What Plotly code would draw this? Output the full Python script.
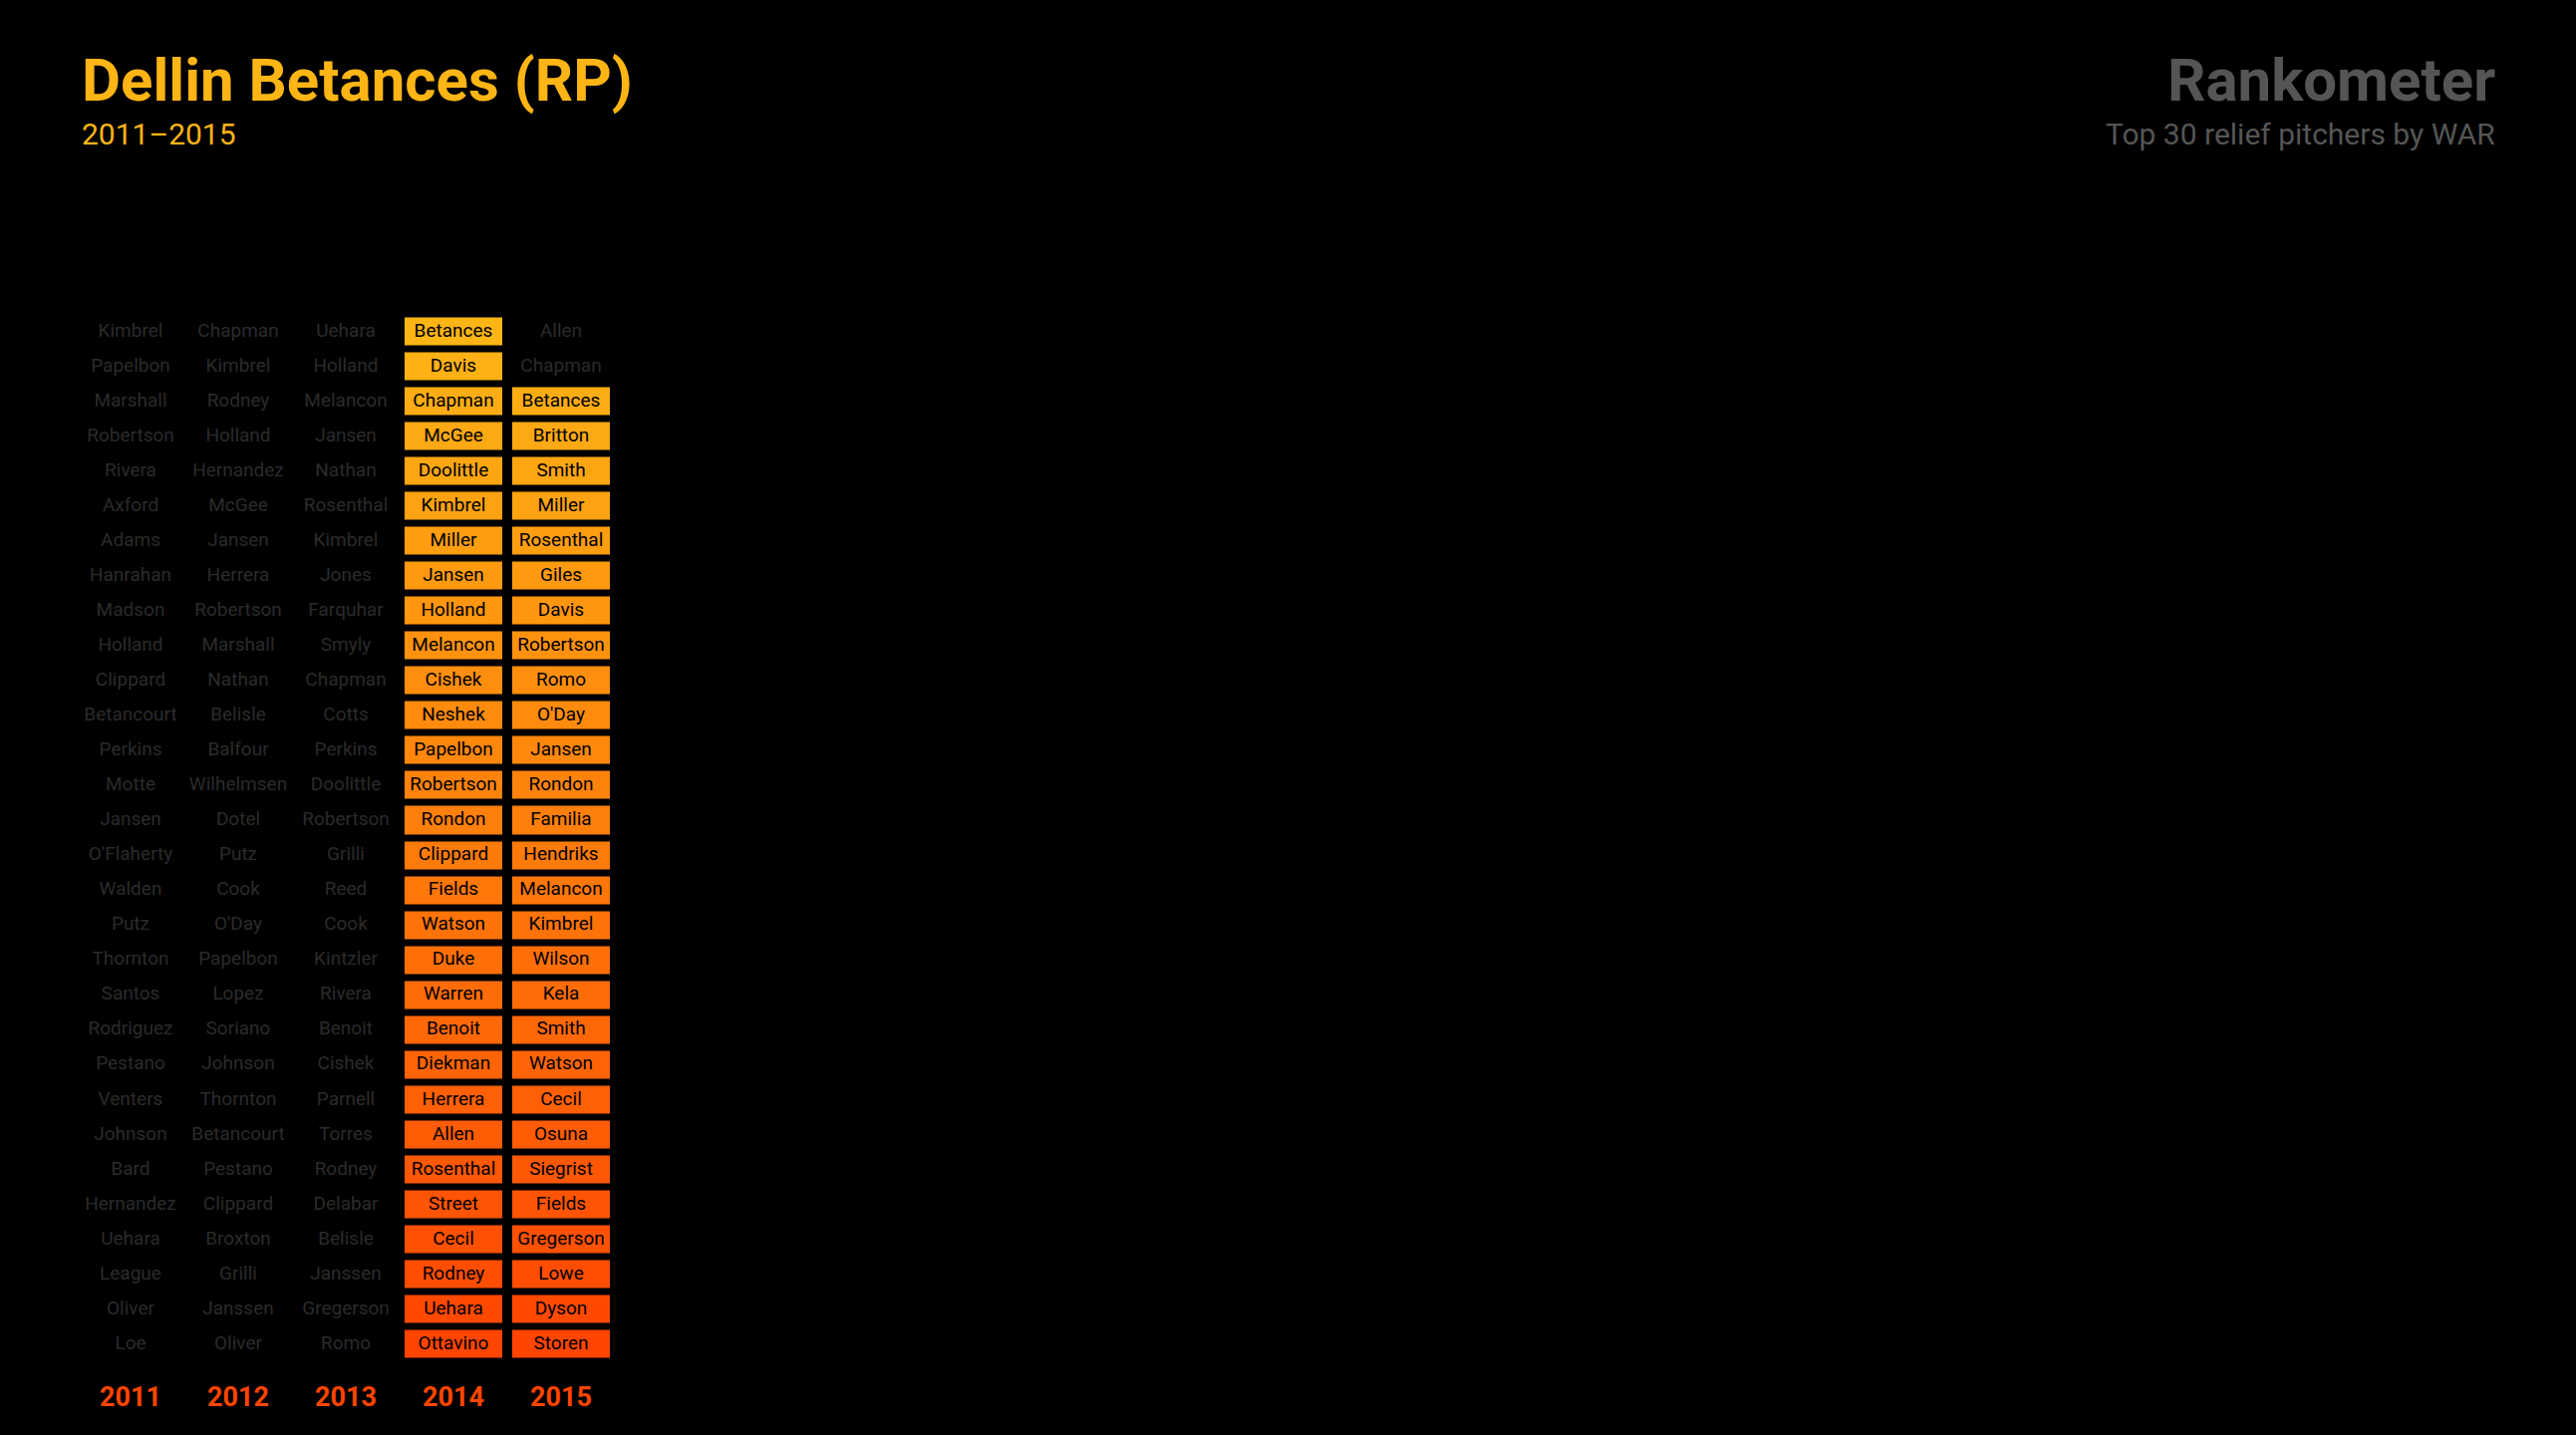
import plotly.graph_objects as go

# --- Data -------------------------------------------------------------------
YEARS = ["2011", "2012", "2013", "2014", "2015"]
RANKS = list(range(1, 31))

NAMES_2011 = ["Kimbrel", "Papelbon", "Marshall", "Robertson", "Rivera", "Axford", "Adams",
              "Hanrahan", "Madson", "Holland", "Clippard", "Betancourt", "Perkins", "Motte",
              "Jansen", "O'Flaherty", "Walden", "Putz", "Thornton", "Santos", "Rodriguez",
              "Pestano", "Venters", "Johnson", "Bard", "Hernandez", "Uehara", "League",
              "Oliver", "Loe"]
NAMES_2012 = ["Chapman", "Kimbrel", "Rodney", "Holland", "Hernandez", "McGee", "Jansen",
              "Herrera", "Robertson", "Marshall", "Nathan", "Belisle", "Balfour", "Wilhelmsen",
              "Dotel", "Putz", "Cook", "O'Day", "Papelbon", "Lopez", "Soriano", "Johnson",
              "Thornton", "Betancourt", "Pestano", "Clippard", "Broxton", "Grilli", "Janssen",
              "Oliver"]
NAMES_2013 = ["Uehara", "Holland", "Melancon", "Jansen", "Nathan", "Rosenthal", "Kimbrel",
              "Jones", "Farquhar", "Smyly", "Chapman", "Cotts", "Perkins", "Doolittle",
              "Robertson", "Grilli", "Reed", "Cook", "Kintzler", "Rivera", "Benoit", "Cishek",
              "Parnell", "Torres", "Rodney", "Delabar", "Belisle", "Janssen", "Gregerson",
              "Romo"]
NAMES_2014 = ["Betances", "Davis", "Chapman", "McGee", "Doolittle", "Kimbrel", "Miller",
              "Jansen", "Holland", "Melancon", "Cishek", "Neshek", "Papelbon", "Robertson",
              "Rondon", "Clippard", "Fields", "Watson", "Duke", "Warren", "Benoit", "Diekman",
              "Herrera", "Allen", "Rosenthal", "Street", "Cecil", "Rodney", "Uehara",
              "Ottavino"]
NAMES_2015 = ["Allen", "Chapman", "Betances", "Britton", "Smith", "Miller", "Rosenthal",
              "Giles", "Davis", "Robertson", "Romo", "O'Day", "Jansen", "Rondon", "Familia",
              "Hendriks", "Melancon", "Kimbrel", "Wilson", "Kela", "Smith", "Watson", "Cecil",
              "Osuna", "Siegrist", "Fields", "Gregerson", "Lowe", "Dyson", "Storen"]

# Betances' rank in each season (None = not in the top 30)
BETANCES_RANK = [None, None, None, 1, 3]

PLAYER = "Dellin Betances (RP)"
SPAN = "2011\u20132015"
BRAND = "Rankometer"
BRAND_SUB = "Top 30 relief pitchers by WAR"

# --- Styling ----------------------------------------------------------------
W, H = 2585, 1440
BG = "#000000"
AMBER = "#fdb515"
RED = "#ff4500"
MUTED = "#2b2b2b"
BRAND_GREY = "#555555"
FONT = "Roboto"

# --- Build cells ------------------------------------------------------------
all_names = [NAMES_2011, NAMES_2012, NAMES_2013, NAMES_2014, NAMES_2015]

z = [[None] * len(YEARS) for _ in RANKS]
hi_x, hi_y, hi_t = [], [], []
lo_x, lo_y, lo_t = [], [], []
for ci, names in enumerate(all_names):
    start = BETANCES_RANK[ci]
    for ri, name in enumerate(names):
        rank = RANKS[ri]
        if start is not None and rank >= start:
            z[ri][ci] = rank
            hi_x.append(ci); hi_y.append(rank); hi_t.append(name)
        else:
            lo_x.append(ci); lo_y.append(rank); lo_t.append(name)

fig = go.Figure()

fig.add_trace(go.Heatmap(
    x=list(range(len(YEARS))), y=RANKS, z=z,
    colorscale=[[0, AMBER], [1, RED]], zmin=1, zmax=30,
    xgap=10, ygap=7, showscale=False, hoverinfo="skip",
))

fig.add_trace(go.Scatter(
    x=lo_x, y=lo_y, text=lo_t, mode="text",
    textfont=dict(family=FONT, size=19, color=MUTED),
    hoverinfo="skip", showlegend=False,
))
fig.add_trace(go.Scatter(
    x=hi_x, y=hi_y, text=hi_t, mode="text",
    textfont=dict(family=FONT, size=19, color="#000000"),
    hoverinfo="skip", showlegend=False,
))

# plot area placed in pixels (margins are zero)
x0, x1 = 77, 617
y_top, y_bot = 315.5, 1366.5

fig.update_xaxes(
    domain=[x0 / W, x1 / W], range=[-0.5, len(YEARS) - 0.5],
    tickvals=list(range(len(YEARS))), ticktext=YEARS,
    tickfont=dict(family=FONT, size=27, color=RED, weight="bold"),
    ticks="outside", ticklen=11, tickcolor="rgba(0,0,0,0)",
    showgrid=False, zeroline=False, showline=False, fixedrange=True,
)
fig.update_yaxes(
    domain=[1 - y_bot / H, 1 - y_top / H], range=[30.5, 0.5],
    showticklabels=False, showgrid=False, zeroline=False, showline=False,
    fixedrange=True,
)

def text_at(txt, x, y, size, color, bold=False, anchor="left"):
    fig.add_annotation(
        text=txt, xref="paper", yref="paper", x=x / W, y=1 - y / H,
        xanchor=anchor, yanchor="middle", showarrow=False,
        font=dict(family=FONT, size=size, color=color,
                  weight="bold" if bold else "normal"),
    )

text_at(PLAYER, 80, 80.5, 60, AMBER, bold=True)
text_at(SPAN, 80, 134, 30, AMBER)
text_at(BRAND, 2506, 80.5, 60, BRAND_GREY, bold=True, anchor="right")
text_at(BRAND_SUB, 2506, 134, 30, BRAND_GREY, anchor="right")

fig.update_layout(
    width=W, height=H,
    margin=dict(l=0, r=0, t=0, b=0),
    paper_bgcolor=BG, plot_bgcolor=BG,
    font=dict(family=FONT),
    showlegend=False,
)

# drop the browser's default body margin so the figure sits at 0,0
fig.write_html("out.html", config={"displayModeBar": False},
               post_script="document.body.style.margin='0';"
                           "document.body.style.background='#000';")
